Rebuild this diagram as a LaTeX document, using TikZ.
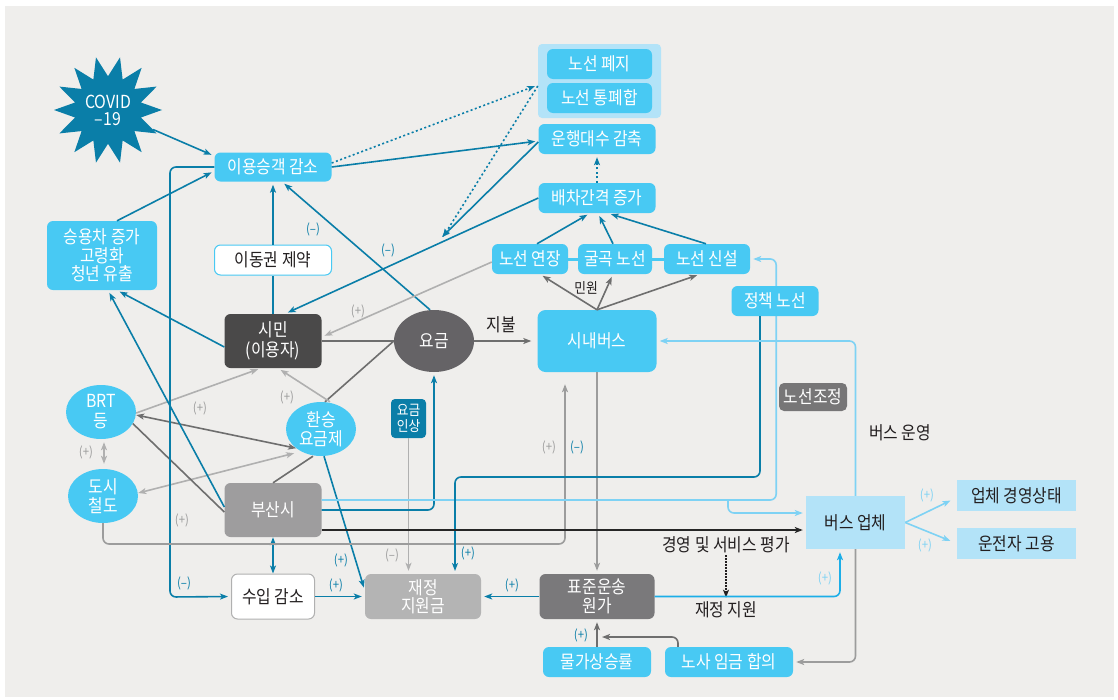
\documentclass[tikz,border=0pt]{standalone}
\usepackage{fontspec}
\setmainfont[FakeStretch=0.88]{Noto Sans CJK KR}
\usetikzlibrary{shapes.geometric,arrows.meta}

\definecolor{paper}{HTML}{EFEEEC}
\definecolor{linkblue}{HTML}{0A7EA8}
\definecolor{skyfill}{HTML}{48C9F3}
\definecolor{palefill}{HTML}{B3E3F8}
\definecolor{paleline}{HTML}{7ED2F4}
\definecolor{brightline}{HTML}{1CAEE8}
\definecolor{darkline}{HTML}{6E6E6E}
\definecolor{midline}{HTML}{9C9C9C}
\definecolor{softline}{HTML}{B0B0B0}
\definecolor{inktext}{HTML}{231F20}

\begin{document}
\begin{tikzpicture}[x=1pt,y=-1pt,>={Stealth[length=8pt,width=6pt,inset=2pt]}]
    \tikzstyle{every node}+=[inner sep=0pt, align=center, font=\fontsize{18}{21}\selectfont]
    \tikzstyle{sky}=[fill=skyfill, text=white, rounded corners=6pt, minimum height=30]
    \tikzstyle{pale}=[fill=palefill, text=inktext, minimum height=31]
    \tikzstyle{shade}=[text=white, rounded corners=6pt, minimum height=54, minimum width=97]
    \tikzstyle{blob}=[ellipse, fill=skyfill, text=white, minimum width=70, minimum height=54]
    \tikzstyle{sign}=[font=\fontsize{13}{14}\selectfont]
    \tikzstyle{bluelink}=[linkblue, line width=1.6pt]
    \tikzstyle{palelink}=[paleline, line width=1.6pt]
    \tikzstyle{brightlink}=[brightline, line width=1.6pt]
    \tikzstyle{darklink}=[darkline, line width=1.6pt]
    \tikzstyle{midlink}=[midline, line width=1.6pt]
    \tikzstyle{softlink}=[softline, line width=1.6pt]
    \tikzstyle{gap}=[shorten >=3pt]
    \tikzstyle{dots}=[dash pattern=on 2pt off 2.5pt]

    \fill[white] (0,0) rectangle (1118,699);
    \fill[paper] (5,6) rectangle (1114,697);
    \useasboundingbox (0,0) rectangle (1118,699);

    % top half
    \node[star, star points=14, star point ratio=1.6, shape border rotate=12.86, fill=linkblue, text=white, minimum size=108, font=\fontsize{18}{17}\selectfont] (covid) at (108,110) {COVID\\–19};
    \node[sky, minimum width=117, minimum height=29] (decline) at (273,167) {이용승객 감소};
    \node[fill=palefill, rounded corners=4pt, minimum width=123, minimum height=74] (cutgroup) at (599.5,81) {};
    \node[sky, minimum width=105] (abolish) at (599.5,64) {노선 폐지};
    \node[sky, minimum width=105] (merge) at (599.5,98) {노선 통폐합};
    \node[sky, minimum width=117] (fleet) at (597,139) {운행대수 감축};
    \node[sky, minimum width=117] (headway) at (597,198) {배차간격 증가};
    \node[sky, minimum width=76] (extend) at (530,259) {노선 연장};
    \node[sky, minimum width=74] (winding) at (615,259) {굴곡 노선};
    \node[sky, minimum width=86] (newline) at (707,259) {노선 신설};
    \node[sky, minimum width=119, minimum height=62, rounded corners=8pt] (citybus) at (597,341) {시내버스};
    \node[sky, minimum width=110, minimum height=69, font=\fontsize{18}{18.5}\selectfont] (cars) at (102,255.5) {승용차 증가\\고령화\\청년 유출};
    \node[fill=white, draw=skyfill, line width=1pt, text=inktext, rounded corners=6pt, minimum width=117, minimum height=30] (mobility) at (273,260) {이동권 제약};
    \node[shade, fill={rgb,255:red,74;green,73;blue,73}, font=\fontsize{18}{20}\selectfont] (citizen) at (273,341) {시민\\(이용자)};
    \node[ellipse, fill={rgb,255:red,101;green,99;blue,102}, text=white, minimum width=80, minimum height=62] (fare) at (434,341) {요금};
    \node[text=inktext] (pay) at (501,325) {지불};
    \node[font=\fontsize{14.5}{15}\selectfont, text=inktext] (complaint) at (586,288) {민원};

    % left and lower half
    \node[blob, font=\fontsize{18}{20}\selectfont] (brt) at (101,412) {BRT\\등};
    \node[blob, font=\fontsize{18}{19}\selectfont] (metro) at (103,496) {도시\\철도};
    \node[blob, font=\fontsize{18}{18.5}\selectfont] (transfer) at (321,429) {환승\\요금제};
    \node[fill=linkblue, text=white, rounded corners=4pt, minimum width=35, minimum height=39, font=\fontsize{14.5}{16}\selectfont] (hike) at (408.5,418.5) {요금\\인상};
    \node[shade, fill={rgb,255:red,158;green,157;blue,158}] (busan) at (273,510) {부산시};
    \node[fill=white, draw=softline, line width=1pt, text=inktext, rounded corners=6pt, minimum width=83, minimum height=45] (revenue) at (273,596.5) {수입 감소};
    \node[shade, fill={rgb,255:red,180;green,180;blue,180}, minimum width=116, minimum height=45, font=\fontsize{18}{18.5}\selectfont] (subsidy) at (423,596.5) {재정\\지원금};
    \node[shade, fill={rgb,255:red,122;green,121;blue,123}, minimum width=115, minimum height=45, font=\fontsize{18}{18.5}\selectfont] (cost) at (597,596.5) {표준운송\\원가};
    \node[sky, minimum width=108] (inflation) at (597,662) {물가상승률};
    \node[sky, minimum width=128] (wage) at (729,662) {노사 임금 합의};
    \node[text=inktext] (evaluation) at (726,545) {경영 및 서비스 평가};
    \node[text=inktext] (support) at (726,610) {재정 지원};

    % right side
    \node[fill={rgb,255:red,119;green,118;blue,119}, text=white, rounded corners=5pt, minimum width=68, minimum height=28] (adjust) at (813,397) {노선조정};
    \node[text=inktext] (busrun) at (900,433) {버스 운영};
    \node[pale, minimum width=99, minimum height=53] (firm) at (855.5,522.5) {버스 업체};
    \node[pale, minimum width=119] (health) at (1016.5,495.5) {업체 경영상태};
    \node[pale, minimum width=119] (drivers) at (1016.5,543.5) {운전자 고용};

    % links around ridership
    \draw[bluelink,gap,->] (covid) -- ([yshift=11pt]decline.west);
    \draw[bluelink,gap,->] ([xshift=15pt]cars.north) -- ([yshift=-4pt]decline.west);
    \draw[bluelink] (citizen) -- (mobility);
    \draw[bluelink,gap,->] (mobility) -- (decline);
    \draw[bluelink,gap,->] ([xshift=-4pt]fare.north) -- ([xshift=9pt]decline.south);
    \draw[bluelink,gap,->] (headway.west) -- ([xshift=12pt]citizen.north);
    \coordinate (gapdrop) at (442,237);
    \draw[bluelink,gap,->] (decline.east) -- ([yshift=-2pt]fleet.west);
    \draw[bluelink,->] ([yshift=-3pt]fleet.west) -- (gapdrop);
    \draw[bluelink,dots,gap,->] ([yshift=4pt]decline.east) -- ([yshift=-4pt]cutgroup.west);
    \draw[bluelink,dots,->] ([yshift=-5pt]cutgroup.west) -- ([xshift=1pt]gapdrop);
    \draw[bluelink,dots,gap,->] (headway) -- (fleet);

    % route changes
    \draw[skyfill, line width=3pt] (extend) -- (winding) -- (newline);
    \draw[bluelink,gap,->] ([xshift=7pt]extend.north) -- ([xshift=-7pt]headway.south);
    \draw[bluelink,gap,->] ([xshift=-2pt]winding.north) -- ([xshift=1pt]headway.south);
    \draw[bluelink,gap,->] ([xshift=-1pt]newline.north) -- ([xshift=11pt]headway.south);
    \draw[darklink,gap,->] (citybus.north) -- ([xshift=10pt]extend.south);
    \draw[darklink,gap,->] (citybus.north) -- ([xshift=-2pt]winding.south);
    \draw[darklink,gap,->] (citybus.north) -- ([xshift=-7pt]newline.south);
    \draw[softlink,gap,->] ([yshift=-3pt]extend.west) -- ([yshift=4pt]citizen.east);

    % fare and transfer
    \draw[darklink] (citizen) -- (fare);
    \draw[darklink,shorten >=6pt,->] (fare) -- (citybus);
    \draw[darklink] ([xshift=4pt]transfer.north) -- (fare.west);
    \draw[darklink] (busan.north) -- ([xshift=-8pt]transfer.south);
    \draw[softlink,gap,->] ([xshift=9pt]transfer.north) -- ([xshift=5pt]citizen.south);
    \draw[softlink,gap,->] ([yshift=-1pt]brt.east) -- ([xshift=-12pt]citizen.south);
    \draw[darklink,<->] ([yshift=-3pt]brt.east) -- (transfer.south west);
    \draw[softlink,<->] ([yshift=3pt]metro.east) -- ([xshift=-2pt,yshift=-5pt]transfer.south west);
    \draw[softlink,shorten <=3pt,shorten >=5pt,<->] ([xshift=3pt]brt.south) -- ([xshift=1pt]metro.north);
    \draw[darklink] ([yshift=-2pt]busan.west) -- (brt.-20);
    \draw[bluelink,gap,->] ([yshift=3pt]busan.west) -- ([xshift=6pt]cars.south);
    \draw[bluelink,gap,->] ([yshift=-6pt]citizen.west) -- ([xshift=15pt]cars.south);

    % revenue and subsidy
    \draw[bluelink,gap,rounded corners=6pt,->] (decline.west) -- (170,167) -- (170,597) -- (revenue.west);
    \draw[bluelink,<->] (busan) -- (revenue);
    \draw[bluelink,gap,->] (revenue) -- (subsidy);
    \draw[bluelink,gap,->] ([xshift=3pt]transfer.south) -- ([yshift=6pt]subsidy.west);
    \draw[softlink,gap,->] (hike) -- (hike |- subsidy.north);
    \draw[bluelink,gap,rounded corners=6pt,->] (busan.east) -| (fare.south);
    \draw[bluelink,gap,->] (cost) -- (subsidy);
    \draw[midlink,gap,->] (citybus) -- (cost);
    \draw[midlink,rounded corners=6pt,shorten >=12pt,->] (metro.south) |- (565,544) -- ([xshift=-32pt]citybus.south);
    \draw[darklink,gap,->] (inflation) -- (cost);
    \coordinate (wagein) at (602,637);
    \draw[darklink,rounded corners=6pt,->] ([xshift=-51pt]wage.north) |- (wagein);

    % city links towards the operators
    \coordinate (fork) at (728,500);
    \draw[palelink,rounded corners=6pt,gap,->] ([yshift=10pt]busan.east) -| ([xshift=26pt]newline.east) -- (newline.east);
    \draw[palelink,rounded corners=6pt,gap,->] (fork) |- ([yshift=9.5pt]firm.west);
    \node[sky, minimum width=87] (policy) at (775,301) {정책 노선};
    \draw[bluelink,rounded corners=6pt,gap,->] ([xshift=-15pt]policy.south) |- (455,477) -- (455,574);
    \draw[black!85,line width=1.6pt,gap,->] ([yshift=-20pt]busan.east) -- ([yshift=-20pt]busan.east -| firm.west);
    \draw[inktext,line width=1.3pt,dash pattern=on 1.5pt off 1.5pt,->] ([yshift=-2pt]evaluation.south) -- ([yshift=4pt]support.north);
    \draw[palelink,rounded corners=6pt,gap,->] (firm.north) |- (citybus.east);
    \draw[brightlink,rounded corners=6pt,gap,->] (cost.east) -| ([xshift=-15.5pt]firm.south);
    \draw[midlink,rounded corners=6pt,gap,->] (firm.south) |- (wage.east);
    \draw[palelink,shorten >=7pt,->] (firm.east) -- ([yshift=-2pt]health.west);
    \draw[palelink,shorten >=7pt,->] (firm.east) -- (drivers.west);

    % signs on the links
    \node[sign, text=linkblue] (sA) at (313,229) {(–)};
    \node[sign, text=linkblue] (sB) at (388,250) {(–)};
    \node[sign, text=midline] (sC) at (358,311) {(+)};
    \node[sign, text=midline] (sD) at (287,397) {(+)};
    \node[sign, text=midline] (sE) at (200,408) {(+)};
    \node[sign, text=midline] (sF) at (86,452) {(+)};
    \node[sign, text=midline] (sG) at (182,520) {(+)};
    \node[sign, text=linkblue] (sH) at (184,583) {(–)};
    \node[sign, text=linkblue] (sI) at (336,585) {(+)};
    \node[sign, text=linkblue] (sJ) at (341,560) {(+)};
    \node[sign, text=midline] (sK) at (392,555) {(–)};
    \node[sign, text=linkblue] (sL) at (468,553) {(+)};
    \node[sign, text=midline] (sM) at (549,447) {(+)};
    \node[sign, text=linkblue] (sN) at (577,447) {(–)};
    \node[sign, text=linkblue] (sO) at (512,585) {(+)};
    \node[sign, text=linkblue] (sP) at (581,635) {(+)};
    \node[sign, text=paleline] (sQ) at (825,578) {(+)};
    \node[sign, text=paleline] (sR) at (927,495) {(+)};
    \node[sign, text=paleline] (sS) at (925,545) {(+)};
\end{tikzpicture}
\end{document}
